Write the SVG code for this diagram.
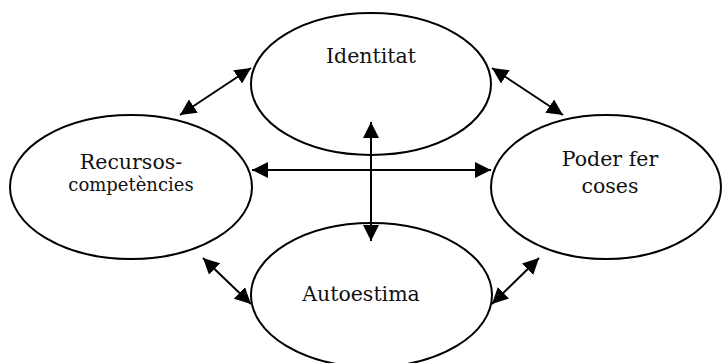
<svg xmlns="http://www.w3.org/2000/svg" width="722" height="363" viewBox="0 0 722 363">
  <defs>
    <marker id="ah" viewBox="0 0 10 10" refX="10" refY="5" markerWidth="16" markerHeight="16" markerUnits="userSpaceOnUse" orient="auto-start-reverse">
      <path d="M0,0 L10,5 L0,10 z" fill="#000"/>
    </marker>
    <style>
      .node ellipse { fill: #fff; stroke: #000; stroke-width: 2; }
      .node text { font-family: "DejaVu Serif", "Liberation Serif", serif; font-size: 20.5px; fill: #111; text-anchor: middle; }
      .conn line { stroke: #000; stroke-width: 2; marker-start: url(#ah); marker-end: url(#ah); }
    </style>
  </defs>
  <rect width="722" height="363" fill="#fff"/>
  <g id="identitat" class="node">
    <ellipse cx="371" cy="84" rx="120" ry="71"/>
    <text x="371" y="63">Identitat</text>
  </g>
  <g id="recursos" class="node">
    <ellipse cx="131" cy="187" rx="121" ry="72"/>
    <text x="131" y="169">Recursos-</text>
    <text x="131" y="191" style="font-size:18px">competències</text>
  </g>
  <g id="poder" class="node">
    <ellipse cx="606" cy="187" rx="115" ry="72"/>
    <text x="610" y="166">Poder fer</text>
    <text x="610" y="193">coses</text>
  </g>
  <g id="autoestima" class="node">
    <ellipse cx="371.5" cy="295" rx="120.5" ry="72"/>
    <text x="361" y="301">Autoestima</text>
  </g>
  <g id="connectors" class="conn">
    <line x1="180" y1="115" x2="251" y2="68"/>
    <line x1="492" y1="68" x2="563" y2="115"/>
    <line x1="252" y1="170" x2="491" y2="170"/>
    <line x1="371" y1="122" x2="371" y2="241"/>
    <line x1="203" y1="258" x2="251" y2="304"/>
    <line x1="492" y1="304" x2="539" y2="258"/>
  </g>
</svg>
